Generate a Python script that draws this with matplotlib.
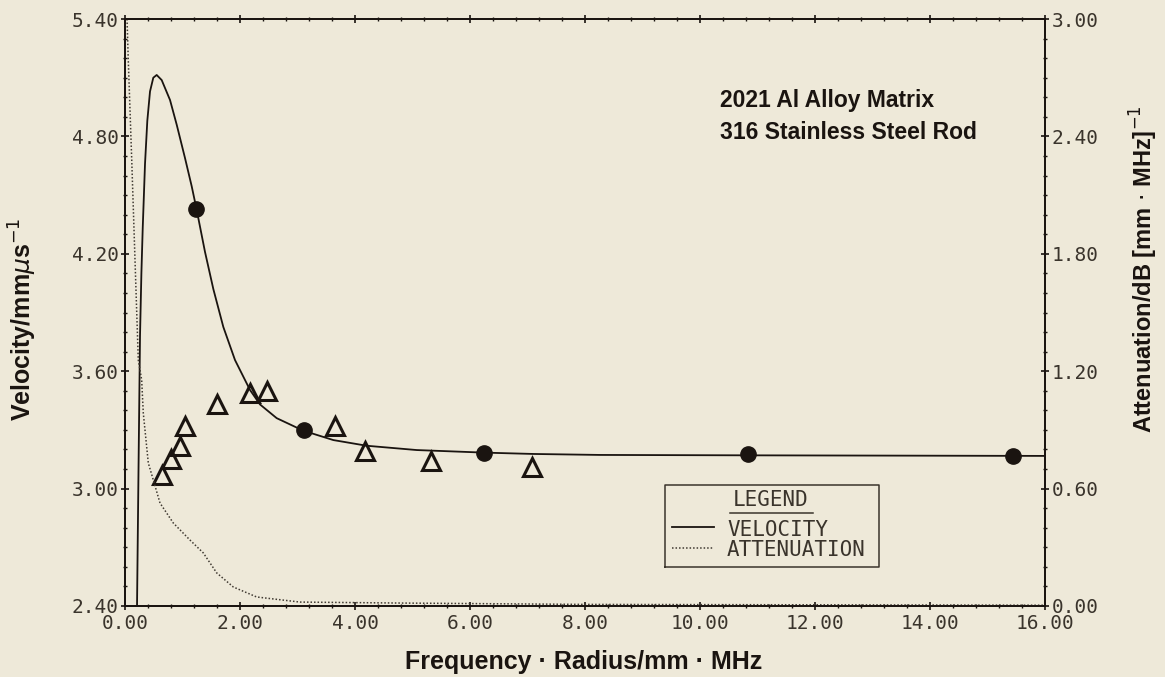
import numpy as np
import matplotlib.pyplot as plt
from matplotlib.ticker import MultipleLocator, FormatStrFormatter

# 计算得到的速度曲线 (frequency*radius, velocity)
vel_fr = [0.209, 0.235, 0.261, 0.285, 0.308, 0.348, 0.388, 0.435, 0.492, 0.551,
          0.638, 0.783, 0.899, 1.043, 1.160, 1.247, 1.391, 1.536, 1.710, 1.913,
          2.174, 2.348, 2.638, 3.101, 3.623, 4.203, 5.073, 6.231, 7.101, 8.261,
          10.83, 16.0]
vel_curve = [2.400, 3.100, 3.780, 4.100, 4.330, 4.660, 4.880, 5.030, 5.100, 5.114,
             5.088, 4.986, 4.860, 4.690, 4.545, 4.424, 4.210, 4.020, 3.826, 3.657,
             3.504, 3.430, 3.360, 3.296, 3.248, 3.219, 3.197, 3.184, 3.177, 3.172,
             3.170, 3.167]

# 计算得到的衰减曲线 (右轴)
att_fr = [0.035, 0.057, 0.117, 0.174, 0.231, 0.290, 0.318, 0.405, 0.492, 0.609,
          0.840, 1.130, 1.362, 1.595, 1.884, 2.290, 3.043, 4.783, 8.0, 16.0]
att_curve = [3.000, 2.790, 2.279, 1.768, 1.257, 1.155, 0.986, 0.731, 0.644, 0.526,
             0.424, 0.337, 0.271, 0.169, 0.097, 0.046, 0.020, 0.015, 0.008, 0.004]

# 理论点 (实心圆)
calc_fr = [1.24, 3.11, 6.24, 10.83, 15.44]
calc_vel = [4.43, 3.30, 3.184, 3.178, 3.168]

# 实验点 (空心三角)
exp_fr = [0.64, 0.80, 0.96, 1.04, 1.60, 2.17, 2.47, 3.65, 4.17, 5.32, 7.08]
exp_vel = [3.07, 3.15, 3.22, 3.32, 3.43, 3.49, 3.50, 3.32, 3.19, 3.14, 3.11]

bg = '#eee9d9'
ink = '#1a1410'
gray_ink = '#3a342c'
mono = 'DejaVu Sans Mono'

fig = plt.figure(figsize=(11.65, 6.77), dpi=100, facecolor=bg)
ax = fig.add_axes([0.1073, 0.1049, 0.7897, 0.867], facecolor=bg)
ax2 = ax.twinx()

ax.plot(vel_fr, vel_curve, color=ink, lw=1.3, zorder=3, solid_joinstyle='round')
ax2.plot(att_fr, att_curve, color='#403a32', lw=1.1, ls=(0, (1, 1.3)), zorder=2)

ax.plot(calc_fr, calc_vel, 'o', ms=11, color=ink, zorder=4)
ax.plot(exp_fr, exp_vel, '^', ms=13, mfc='none', mec=ink, mew=2.2, zorder=4)

ax.set_xlim(0, 16)
ax.set_ylim(2.4, 5.4)
ax2.set_ylim(0, 3.0)

ax.xaxis.set_major_locator(MultipleLocator(2))
ax.xaxis.set_minor_locator(MultipleLocator(0.4))
ax.yaxis.set_major_locator(MultipleLocator(0.6))
ax.yaxis.set_minor_locator(MultipleLocator(0.1))
ax2.yaxis.set_major_locator(MultipleLocator(0.6))
ax2.yaxis.set_minor_locator(MultipleLocator(0.1))
ax.xaxis.set_major_formatter(FormatStrFormatter('%.2f'))
ax.yaxis.set_major_formatter(FormatStrFormatter('%.2f'))
ax2.yaxis.set_major_formatter(FormatStrFormatter('%.2f'))

for a in (ax, ax2):
    for s in a.spines.values():
        s.set_color(ink)
        s.set_linewidth(1.3)
    a.tick_params(which='major', direction='inout', length=6, width=1.2, color=ink, pad=1.5)
    a.tick_params(which='minor', direction='inout', length=3.5, width=1.0, color=ink)
ax.tick_params(top=True, which='both')
ax.tick_params(axis='x', which='major', pad=3)
for lab in ax.get_xticklabels() + ax.get_yticklabels() + ax2.get_yticklabels():
    lab.set_fontfamily(mono)
    lab.set_fontsize(14)
    lab.set_color(gray_ink)

lab_font = {'family': 'Liberation Sans', 'weight': 'bold', 'size': 18, 'color': ink}
ax.set_xlabel('Frequency · Radius/mm · MHz', fontdict=lab_font)
ax.set_ylabel(r'Velocity/mm$\mu$s$^{-1}$', fontdict=lab_font)
ax2.set_ylabel(r'Attenuation/dB [mm $\cdot$ MHz]$^{-1}$',
               fontdict=dict(lab_font, size=17))
ax.xaxis.set_label_coords(0.498, -0.075)
ax.yaxis.set_label_coords(-0.093, 0.489)
ax2.yaxis.set_label_coords(1.090, 0.574)

title_font = {'family': 'Liberation Sans', 'weight': 'bold', 'size': 16.5, 'color': ink}
ax.text(10.35, 4.986, '2021 Al Alloy Matrix', fontdict=title_font, va='center', ha='left')
ax.text(10.35, 4.822, '316 Stainless Steel Rod', fontdict=title_font, va='center', ha='left')

# 图例框
leg_x0, leg_x1, leg_y0, leg_y1 = 9.39, 13.11, 2.60, 3.018
ax.plot([leg_x0, leg_x1, leg_x1, leg_x0, leg_x0], [leg_y0, leg_y0, leg_y1, leg_y1, leg_y0],
        color=gray_ink, lw=1.1, zorder=5)
ax.text(11.23, 2.942, 'LEGEND', family=mono, size=15, color=gray_ink,
        ha='center', va='center')
ax.plot([10.52, 11.97], [2.875, 2.875], color=gray_ink, lw=1.1)
ax.plot([9.51, 10.24], [2.805, 2.805], color=ink, lw=1.3)
ax.plot([9.51, 10.24], [2.698, 2.698], color='#403a32', lw=1.1, ls=(0, (1, 1.3)))
ax.text(10.47, 2.788, 'VELOCITY', family=mono, size=15, color=gray_ink,
        ha='left', va='center')
ax.text(10.47, 2.686, 'ATTENUATION', family=mono, size=15, color=gray_ink,
        ha='left', va='center')

fig.savefig('out.png', dpi=100, facecolor=bg)
